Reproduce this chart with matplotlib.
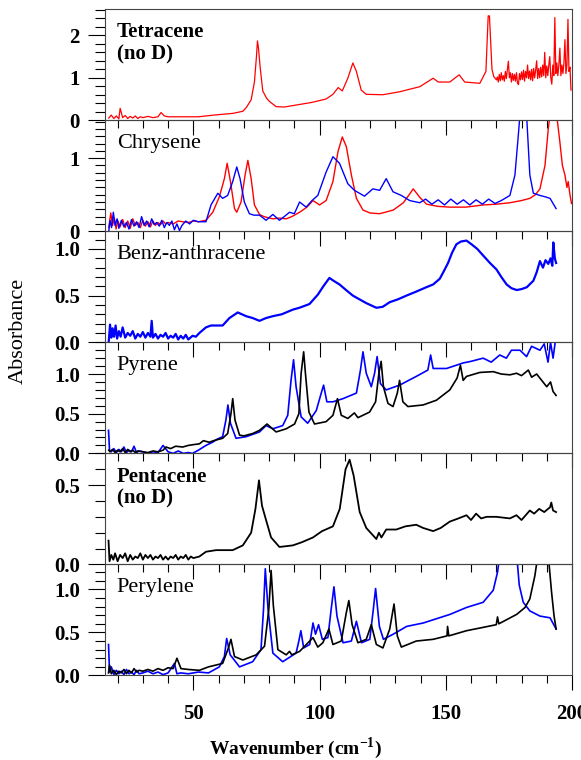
import matplotlib
matplotlib.use("Agg")
import matplotlib.pyplot as plt
from matplotlib.ticker import MultipleLocator

plt.rcParams['font.family'] = ['Liberation Serif', 'DejaVu Serif']
plt.rcParams['mathtext.fontset'] = 'custom'
plt.rcParams['mathtext.rm'] = 'Liberation Serif'
plt.rcParams['mathtext.bf'] = 'Liberation Serif:bold'

# ---------------------------
# Spectra
# ---------------------------
tet_x = [16.5, 17.5, 18.5, 19.5, 20.5, 21, 22, 23, 24, 25, 26, 27, 28, 29, 30, 32, 34, 36, 37.2, 38.5,
         40, 45, 52, 58, 62, 65.6, 68, 69.6, 71, 72.9, 74.2, 75, 75.4, 75.8, 76.5, 77.5, 79, 80.2, 82.8, 86,
         92, 97, 102.6, 105.3, 107.4, 109, 111.2, 113.2, 114.6, 116.5, 118.5, 125, 131.7, 139.7, 145, 147,
         151.6, 155.3, 157.5, 163.5, 165.9, 166.8, 167.3, 168.3, 169, 170.1,
         170.4, 170.8, 171.2, 171.6, 172.0, 172.4, 172.8, 173.2, 173.6, 174.0,
         174.4, 174.8, 175.2, 175.6, 176.0, 176.4, 176.8, 177.2, 177.6, 178.0,
         178.4, 178.8, 179.2, 179.6, 180.0, 180.4, 180.8, 181.2, 181.6, 182.0,
         182.4, 182.8, 183.2, 183.6, 184.0, 184.4, 184.8, 185.2, 185.6, 186.0,
         186.4, 186.8, 187.2, 187.6, 188.0, 188.4, 188.8, 189.2, 189.6, 190.0,
         190.4, 190.8, 191.2, 191.6, 192.0, 192.4, 192.8, 193.2, 193.6, 194.0,
         194.4, 194.8, 195.2, 195.6, 196.0, 196.4, 196.8, 197.2, 197.6,
         198.0, 198.4, 198.8, 199.2, 199.6]
tet_y = [0.05, 0.12, 0.04, 0.1, 0.03, 0.28, 0.06, 0.11, 0.04, 0.09, 0.05, 0.1, 0.04, 0.08, 0.06, 0.09, 0.06, 0.08, 0.18, 0.1,
         0.08, 0.08, 0.08, 0.12, 0.14, 0.16, 0.19, 0.21, 0.3, 0.48, 0.9, 1.5, 1.87, 1.7, 1.23, 0.69, 0.52, 0.44, 0.32, 0.31,
         0.37, 0.42, 0.5, 0.61, 0.77, 0.69, 0.99, 1.35, 1.15, 0.71, 0.61, 0.6, 0.67, 0.79, 0.99, 0.9,
         0.9, 1.07, 0.9, 0.87, 1.15, 2.46, 2.46, 1.2, 1.03, 0.95,
         1.02, 0.9, 1.08, 0.93, 1.12, 0.95, 1.05, 0.92, 1.15, 0.98,
         1.2, 1.39, 1.0, 1.12, 0.9, 1.1, 0.94, 1.08, 0.92, 1.12,
         0.88, 0.84, 1.1, 0.95, 1.14, 0.96, 1.18, 0.92, 1.15, 1.0,
         1.3, 0.98, 1.16, 0.95, 1.2, 0.93, 1.22, 1.0, 1.18, 1.4,
         0.98, 1.22, 1.0, 1.25, 1.02, 1.3, 1.05, 1.6, 1.0, 1.28,
         1.05, 1.3, 1.5, 1.0, 0.85, 1.3, 1.05, 2.42, 1.1, 1.35,
         1.05, 1.3, 1.7, 1.05, 1.3, 1.1, 1.35, 1.9, 1.1,
         1.3, 2.38, 1.15, 1.25, 0.71]

chr_red_x = [16.5, 17.3, 18, 18.7, 19.4, 20, 21, 22, 23, 24, 25, 26, 27, 28, 29, 30, 31, 32, 33, 34, 35, 36, 37, 38,
             39, 40, 42, 44, 45.8, 48, 50, 52, 55, 57.7, 60.3, 62.3, 63.4, 64.7, 66.3, 67.2, 68.9, 70.5, 71.6,
             72.9, 74.2, 76.2, 78, 81.5, 84, 86.8, 89, 92.1, 95, 97.4, 100, 102.6, 105.3, 107.3, 109, 110.6,
             112.6, 114.6, 117.2, 120, 123.8, 126, 129.2, 133.2, 135.5, 137.1, 139.8, 142.4, 147, 151.6, 158,
             164.8, 170, 175.4, 180, 183.3, 185.5, 187.3, 189.3, 190.6, 191.3, 192.5, 193.9, 195.2, 196.2,
             197.2, 198, 198.5, 199.2, 199.8]
chr_red_y = [0.05, 0.25, 0.08, 0.18, 0.03, 0.15, 0.06, 0.16, 0.05, 0.14, 0.04, 0.17, 0.08, 0.12, 0.05, 0.15, 0.07, 0.13, 0.06, 0.14, 0.08, 0.12, 0.09, 0.14,
             0.1, 0.12, 0.1, 0.14, 0.13, 0.12, 0.14, 0.13, 0.15, 0.26, 0.47, 0.72, 0.93, 0.68, 0.31, 0.26, 0.4, 0.77, 0.97,
             0.72, 0.36, 0.23, 0.2, 0.17, 0.18, 0.17, 0.2, 0.26, 0.33, 0.42, 0.36, 0.42, 0.68, 1.09, 1.29, 1.16,
             0.77, 0.45, 0.29, 0.25, 0.24, 0.26, 0.29, 0.39, 0.5, 0.58, 0.46, 0.37, 0.34, 0.33, 0.33,
             0.36, 0.37, 0.39, 0.42, 0.45, 0.5, 0.58, 0.9, 1.4, 1.6, 1.6, 1.6, 1.22, 0.9,
             0.77, 0.6, 0.68, 0.5, 0.38]

chr_blue_x = [16.5, 17, 17.6, 18.3, 19, 19.8, 20.5, 21.5, 22.5, 23.5, 24.5, 25.5, 26.5, 27.5, 28.5, 29.5, 30.5, 31.5,
              32.5, 33.5, 34.5, 35.5, 36.5, 37.5, 38.5, 39.5, 40.5, 41.5, 42.5, 43.5, 44.5, 45.5, 47, 48.5, 50, 52,
              55, 57, 59.7, 61.6, 63.6, 65.6, 67.2, 68.5, 70.2, 72.2, 74, 76.2, 78.8, 81.5, 84.1, 86, 88.1, 90,
              92.1, 94.7, 97, 99.3, 102.6, 105.3, 107.9, 111.2, 113.8, 117.8, 121.1, 123.8, 126.4, 129.1, 132.4,
              135.7, 139.7, 142, 144.5, 147, 149.5, 152, 154.5, 157, 159.5, 162, 164.5, 167, 169.5, 172, 175.4,
              177.4, 178.7, 179.4, 182, 183.3, 184.7, 187.3, 189.5, 191.3, 193.7]
chr_blue_y = [0.0, 0.15, 0.05, 0.26, 0.08, 0.17, 0.04, 0.15, 0.06, 0.12, 0.03, 0.16, 0.07, 0.13, 0.05, 0.2, 0.08, 0.14,
              0.06, 0.17, 0.09, 0.12, 0.07, 0.15, 0.05, 0.12, 0.08, 0.14, 0.02, 0.1, 0.01, 0.08, 0.14, 0.1, 0.15, 0.13,
              0.13, 0.36, 0.52, 0.45, 0.49, 0.68, 0.88, 0.72, 0.4, 0.24, 0.22, 0.22, 0.15, 0.23, 0.15, 0.2, 0.26, 0.24,
              0.4, 0.33, 0.42, 0.49, 0.81, 1.02, 0.93, 0.65, 0.56, 0.48, 0.58, 0.56, 0.72, 0.54, 0.49,
              0.42, 0.39, 0.44, 0.37, 0.43, 0.36, 0.44, 0.37, 0.43, 0.36, 0.43, 0.37, 0.44, 0.38, 0.42, 0.49,
              0.77, 1.3, 1.6, 1.6, 0.77, 0.52, 0.49, 0.47, 0.45, 0.31]

benz_x = [16.5, 17, 17.5, 18, 18.6, 19.2, 19.8, 20.5, 21.2, 22, 23, 24, 25, 26, 27, 28, 29, 30, 31, 32, 33, 33.5,
          34, 35, 36, 37, 38, 39, 40, 41, 42, 43, 44, 45, 46, 47, 48, 49.7, 51, 52.4, 55, 57, 59, 61.6, 64.3,
          67.6, 70.9, 73.5, 76.2, 78.8, 81.5, 85, 89.4, 92, 96, 99.3, 101.5, 103.9, 105.5, 107.9, 110.5, 113.2,
          118.5, 122.5, 125, 127.8, 131, 134.4, 138, 142.3, 145, 147.6, 149, 150.9, 152.5, 154.2, 156, 158.2,
          160.2, 162.5, 164.8, 167.5, 170.1, 172, 174.1, 176, 178.1, 180, 182.1, 184.7, 186, 187.3, 188.5,
          189.5, 190.6, 191.5, 192.2, 192.6, 193.2, 193.7]
benz_y = [0.01, 0.19, 0.05, 0.15, 0.06, 0.18, 0.04, 0.12, 0.06, 0.16, 0.05, 0.1, 0.07, 0.12, 0.04, 0.09, 0.06, 0.11, 0.05, 0.1, 0.06, 0.23,
          0.05, 0.09, 0.04, 0.08, 0.06, 0.1, 0.04, 0.07, 0.05, 0.09, 0.03, 0.07, 0.04, 0.08, 0.03, 0.07, 0.06, 0.1, 0.16, 0.18, 0.18, 0.18, 0.26,
          0.32, 0.28, 0.26, 0.23, 0.26, 0.28, 0.3, 0.35, 0.37, 0.41, 0.51, 0.6, 0.69, 0.66, 0.62, 0.56, 0.5,
          0.42, 0.37, 0.38, 0.43, 0.46, 0.5, 0.54, 0.59, 0.62, 0.68, 0.75, 0.85, 0.96, 1.05, 1.08, 1.09,
          1.05, 1.0, 0.93, 0.85, 0.78, 0.7, 0.62, 0.58, 0.56, 0.57, 0.59, 0.66, 0.75, 0.87, 0.8,
          0.88, 0.84, 0.9, 0.82, 1.07, 0.9, 0.85]

pyr_black_x = [16.5, 17, 18, 19, 20, 21, 22, 23, 24, 25, 26, 27, 28, 30, 32, 34, 36, 38, 39.2, 41, 43, 45.8, 48,
               50, 52.4, 54, 56.3, 58, 61.6, 63.6, 64.9, 65.6, 66.5, 68.3, 70, 73.5, 76.2, 79.2, 82.8, 86.8, 90.1,
               91.8, 92.7, 93.7, 94.4, 95.8, 98, 102.6, 105.3, 107.1, 108.6, 111.2, 113.8, 115.2, 119.8, 122.2,
               123.5, 124.4, 125.3, 127.1, 129.1, 130.8, 131.7, 133, 135, 141, 146.3, 151.6, 154.5, 155.8, 156.9,
               158.2, 163.5, 168.8, 172, 175.4, 178, 180, 182.7, 184, 186, 188, 190, 191.5, 192.5, 193.7]
pyr_black_y = [0.04, 0.02, 0.05, 0.01, 0.04, 0.02, 0.06, 0.01, 0.05, 0.02, 0.04, 0.01, 0.03, 0.02, 0.01, 0.03, 0.02, 0.04, 0.08, 0.06, 0.09, 0.08, 0.1,
               0.11, 0.12, 0.16, 0.14, 0.16, 0.19, 0.25, 0.5, 0.69, 0.42, 0.23, 0.22, 0.25, 0.29, 0.37, 0.27, 0.31, 0.37,
               0.5, 1.01, 1.28, 1.01, 0.52, 0.37, 0.4, 0.48, 0.69, 0.48, 0.44, 0.51, 0.45, 0.52, 0.65,
               1.01, 1.16, 0.84, 0.63, 0.59, 0.76, 0.92, 0.65, 0.59, 0.61, 0.67, 0.8, 0.95, 1.11, 0.92,
               0.97, 1.02, 1.03, 1.0, 0.99, 1.01, 0.98, 1.05, 0.96, 1.0, 0.92, 0.84, 0.9, 0.78, 0.73]

pyr_blue_x = [16.4, 16.8, 17.5, 18.5, 19.5, 20.5, 21.5, 22.5, 23.5, 24.5, 25.5, 26.5, 27.5, 28.5, 30, 32, 34, 36, 38,
              40, 42, 44, 46, 48, 49.7, 52, 55, 57.6, 59.5, 61.6, 62.9, 63.7, 64.7, 66.9, 70.9, 76.2, 78.8, 81.5,
              85.4, 87.4, 88.7, 89.7, 90.7, 92.7, 95.3, 98.7, 100.4, 101.6, 102.9, 105.3, 109.3, 114.6, 116.2,
              117.2, 118.5, 120.5, 121.8, 122.8, 124.1, 126.4, 131.7, 138.3, 142.9, 144, 145, 150.3, 156.9, 160,
              164.8, 168, 171.4, 174, 176, 179.4, 182, 184, 187.3, 189, 190.5, 191.5, 192.5, 193.3]
pyr_blue_y = [0.29, 0.04, 0.02, 0.06, 0.01, 0.05, 0.02, 0.08, 0.01, 0.04, 0.02, 0.09, 0.01, 0.03, 0.02, 0.0, 0.02, 0.01, 0.1,
              0.02, 0.0, 0.03, 0.0, 0.01, 0.0, 0.04, 0.1, 0.14, 0.18, 0.21, 0.42, 0.61, 0.38, 0.19, 0.21, 0.27, 0.35, 0.31,
              0.35, 0.48, 0.92, 1.18, 0.84, 0.46, 0.38, 0.54, 0.73, 0.86, 0.65, 0.65, 0.69, 0.76, 1.05,
              1.28, 1.01, 0.84, 1.01, 1.22, 0.88, 0.8, 0.86, 0.97, 1.05, 1.24, 1.07, 1.07, 1.14, 1.16,
              1.2, 1.15, 1.24, 1.2, 1.3, 1.3, 1.22, 1.35, 1.3, 1.38, 1.15, 1.4, 1.2, 1.39]

pent_x = [16.4, 16.8, 17.5, 18.3, 19, 20, 21, 22, 23, 24, 25, 26, 27, 28, 29, 30, 31, 32, 33, 34, 35, 36, 37, 38,
          39, 40, 41, 42, 43, 44, 45, 46, 47, 48, 49, 50, 52.4, 55, 59, 62, 65.6, 69.6, 72.9, 74.6, 76, 77.2,
          78.8, 80.8, 84.1, 89.4, 93, 97.4, 101, 105.3, 108, 110.3, 111.9, 113.5, 115.9, 118.5, 122.5, 123.5,
          124.5, 126.4, 130.4, 134, 138.3, 141, 145, 148, 151.6, 155, 158.2, 160, 162, 164, 166.2, 170, 175.4,
          178, 180, 183.3, 185, 187, 189, 190.5, 191.3, 191.8, 192.5, 193.7]
pent_y = [0.15, 0.02, 0.06, 0.03, 0.07, 0.02, 0.06, 0.04, 0.07, 0.02, 0.06, 0.03, 0.05, 0.04, 0.07, 0.03, 0.06, 0.04, 0.06, 0.03, 0.05, 0.04, 0.06, 0.03,
          0.05, 0.03, 0.05, 0.04, 0.06, 0.03, 0.05, 0.04, 0.06, 0.03, 0.05, 0.04, 0.05, 0.08, 0.09, 0.09, 0.09, 0.12, 0.2, 0.35, 0.53, 0.37,
          0.28, 0.17, 0.11, 0.12, 0.14, 0.17, 0.21, 0.24, 0.35, 0.6, 0.66, 0.56, 0.33, 0.23, 0.16, 0.2,
          0.17, 0.22, 0.22, 0.24, 0.25, 0.23, 0.21, 0.23, 0.27, 0.29, 0.31, 0.28, 0.32, 0.29, 0.3, 0.3, 0.29,
          0.31, 0.28, 0.34, 0.32, 0.35, 0.33, 0.35, 0.36, 0.39, 0.34, 0.33]

per_black_x = [16.4, 16.8, 17.5, 18.5, 19.5, 20.5, 21.5, 22.5, 23.5, 24.5, 25.5, 26.5, 27.5, 28.5, 30, 32, 34, 36,
               38, 40, 42, 43.5, 45.1, 48, 52.4, 56, 61.6, 63.9, 64.9, 66.3, 69.6, 74.9, 78.2, 79.9, 80.8, 81.7,
               83.5, 86.8, 88.1, 89, 92.1, 96.1, 97.4, 99.3, 101.3, 103.7, 105.3, 108.6, 110.6, 111.6, 112.9,
               115.2, 118.5, 120.5, 122.5, 125.1, 127.8, 129.5, 130.8, 132.4, 138.3, 145, 150.5, 150.7, 151.2,
               158.2, 165, 170, 170.5, 171, 178.1, 181.4, 183.3, 185.3, 186.5, 190.6, 191.9, 192.9, 193.7]
per_black_y = [0.03, 0.12, 0.02, 0.06, 0.01, 0.05, 0.03, 0.07, 0.02, 0.06, 0.03, 0.08, 0.04, 0.06, 0.05, 0.07, 0.05, 0.08,
               0.06, 0.09, 0.08, 0.2, 0.08, 0.07, 0.06, 0.1, 0.14, 0.32, 0.42, 0.22, 0.18, 0.24, 0.34, 0.77, 1.22, 0.81,
               0.3, 0.24, 0.28, 0.24, 0.28, 0.4, 0.44, 0.33, 0.38, 0.54, 0.36, 0.4, 0.73, 0.87, 0.59,
               0.38, 0.42, 0.59, 0.36, 0.32, 0.54, 0.83, 0.46, 0.33, 0.4, 0.42, 0.46, 0.57, 0.46,
               0.52, 0.56, 0.59, 0.68, 0.6, 0.71, 0.79, 0.89, 1.16, 1.4, 1.4, 0.97, 0.69, 0.54]

per_blue_x = [16.4, 16.8, 17.5, 18.5, 19.5, 20.5, 21.5, 22.5, 23.5, 24.5, 25.5, 26.5, 27.5, 28.5, 30, 32, 34, 36, 38,
              40, 42.5, 43.5, 45, 48, 52, 56, 60.3, 62.3, 63.2, 64.6, 68.3, 73.5, 76.8, 77.8, 78.5, 79.6, 81.5,
              85.4, 90.7, 91.8, 92.6, 93.7, 96.1, 97.4, 98.4, 99.6, 101.1, 103.3, 104.6, 105.7, 106.9, 109.3,
              112.6, 114.6, 116.6, 119.9, 121.3, 122.2, 123.7, 125.3, 129.2, 134.5, 141.1, 151.7, 158.2, 164.8,
              168.8, 170.5, 171.4, 178.1, 179.1, 180.7, 183.3, 187.3, 191.3, 193.7]
per_blue_y = [0.36, 0.04, 0.1, 0.01, 0.06, 0.02, 0.05, 0.01, 0.07, 0.02, 0.04, 0.01, 0.06, 0.02, 0.03, 0.05, 0.02, 0.04, 0.01,
              0.03, 0.14, 0.02, 0.03, 0.02, 0.04, 0.03, 0.1, 0.22, 0.43, 0.24, 0.1, 0.16, 0.3, 0.77, 1.24, 0.77, 0.26,
              0.16, 0.26, 0.4, 0.52, 0.32, 0.36, 0.61, 0.48, 0.59, 0.42, 0.44, 0.77, 1.03, 0.69, 0.38,
              0.4, 0.63, 0.38, 0.42, 0.77, 1.01, 0.57, 0.42, 0.48, 0.57, 0.61, 0.71, 0.79, 0.85,
              0.99, 1.2, 1.4, 1.4, 1.05, 0.85, 0.75, 0.69, 0.67, 0.54]

names = ["Tetracene\n(no D)", "Chrysene", "Benz-anthracene", "Pyrene", "Pentacene\n(no D)", "Perylene"]
name_bold = [True, False, False, False, True, False]
y_tops = [2.62, 1.52, 1.19, 1.4, 0.7, 1.29]
y_major = [1, 1, 0.5, 0.5, 0.5, 0.5]
y_minor = [0.2, 0.1, 0.1, 0.1, 0.1, 0.1]

# each panel: list of (x, y, colour, linewidth)
panels = [
    [(tet_x, tet_y, "#ff0000", 0.9)],
    [(chr_red_x, chr_red_y, "#ff0000", 1.0), (chr_blue_x, chr_blue_y, "#0000ff", 1.0)],
    [(benz_x, benz_y, "#0000ff", 1.6)],
    [(pyr_blue_x, pyr_blue_y, "#0000ff", 1.2), (pyr_black_x, pyr_black_y, "black", 1.2)],
    [(pent_x, pent_y, "black", 1.3)],
    [(per_blue_x, per_blue_y, "#0000ff", 1.2), (per_black_x, per_black_y, "black", 1.2)],
]

fig, axes = plt.subplots(6, 1, sharex=True, figsize=(5.81, 7.6), dpi=100)
fig.subplots_adjust(left=0.1807, right=0.9845, top=0.988, bottom=0.1112, hspace=0)

for i, ax in enumerate(axes):
    ax.set_facecolor("none")
    for (x, y, c, lw) in panels[i]:
        ax.plot(x, y, color=c, lw=lw)
    ax.set_xlim(15, 200)
    ax.set_ylim(0, y_tops[i])
    ax.yaxis.set_major_locator(MultipleLocator(y_major[i]))
    ax.yaxis.set_minor_locator(MultipleLocator(y_minor[i]))
    ax.xaxis.set_major_locator(MultipleLocator(50))
    ax.xaxis.set_minor_locator(MultipleLocator(10))
    if y_major[i] == 1:
        ax.yaxis.set_major_formatter(plt.FuncFormatter(lambda v, p: "%d" % v))
    else:
        ax.yaxis.set_major_formatter(plt.FuncFormatter(lambda v, p: "%.1f" % v))
    ax.tick_params(axis="y", which="major", direction="out", length=12, width=0.8, labelsize=15, pad=6)
    ax.tick_params(axis="y", which="minor", direction="out", length=7, width=0.8)
    ax.tick_params(axis="x", which="major", direction="out", length=10.5, width=0.8, labelsize=15, pad=10)
    ax.tick_params(axis="x", which="minor", direction="out", length=5.5, width=0.8)
    for lab in ax.get_yticklabels() + ax.get_xticklabels():
        lab.set_fontweight("bold")
    for sp in ax.spines.values():
        sp.set_linewidth(0.8)
        sp.set_color("#444444")
    ax.text(0.025, 0.88, names[i], transform=ax.transAxes, ha="left", va="top",
            fontsize=15 if name_bold[i] else 16, fontweight="bold" if name_bold[i] else "normal",
            linespacing=1.15)

fig.text(0.032, 1 - 331 / 760, "Absorbance", rotation=90, ha="center", va="center", fontsize=16)
fig.text(296 / 581, 1 - 748 / 760, r"Wavenumber (cm$^{\mathbf{-1}}$)", ha="center", va="center",
         fontsize=14, fontweight="bold")

fig.savefig("out.png", dpi=100)
